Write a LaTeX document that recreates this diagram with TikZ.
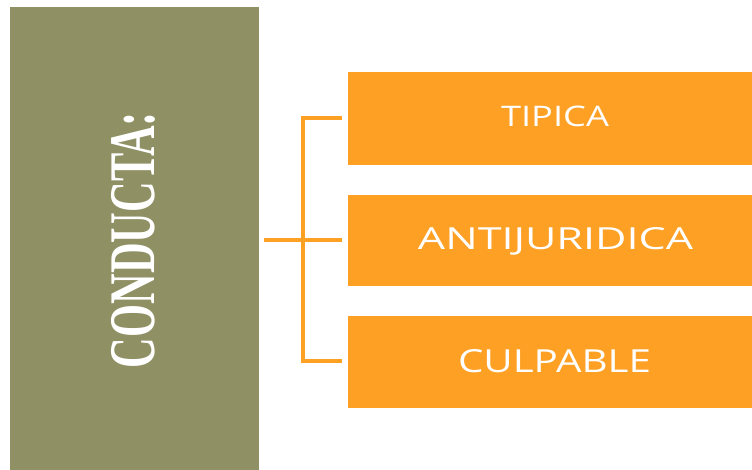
\documentclass[tikz,border=0pt]{standalone}
\usepackage{fontspec}
\setmainfont{Liberation Serif}
\newfontfamily\boxfont{Open Sans}
\definecolor{olive}{RGB}{143,144,100}
\definecolor{orng}{RGB}{253,160,36}
\begin{document}
\begin{tikzpicture}[x=1pt,y=-1pt,
  branch/.style={draw=orng,line width=4pt},
  obox/.style={fill=orng,draw=white,line width=0.6pt},
  otext/.style={text=white,inner sep=0pt,anchor=base}]
\useasboundingbox (0,0) rectangle (752,470);
\fill[olive] (10,7) rectangle (259,471);
\node[text=white,inner sep=0pt,rotate=90] (cond) at (133.5,240)
  {\resizebox*{256pt}{44pt}{\bfseries CONDUCTA:}};
\path[obox] (347,71) rectangle (753,165);
\path[obox] (347,194) rectangle (753,286);
\path[obox] (347,315) rectangle (753,408);
\node[otext] (t1) at (555,127) {\resizebox{108pt}{20.5pt}{\boxfont TIPICA}};
\node[otext] (t2) at (555.5,250) {\resizebox{275pt}{22pt}{\boxfont ANTIJURIDICA}};
\node[otext] (t3) at (554.5,372) {\resizebox{193pt}{23pt}{\boxfont CULPABLE}};
\coordinate (s) at (264,240);
\coordinate (j) at (303,240);
\coordinate (top) at (303,118);
\coordinate (bot) at (303,361);
\coordinate (e1) at (342,118);
\coordinate (e2) at (342,240);
\coordinate (e3) at (342,361);
\draw[branch] (s) -- (e2);
\draw[branch,line join=miter] (e1) -- (top) -- (bot) -- (e3);
\end{tikzpicture}
\end{document}
